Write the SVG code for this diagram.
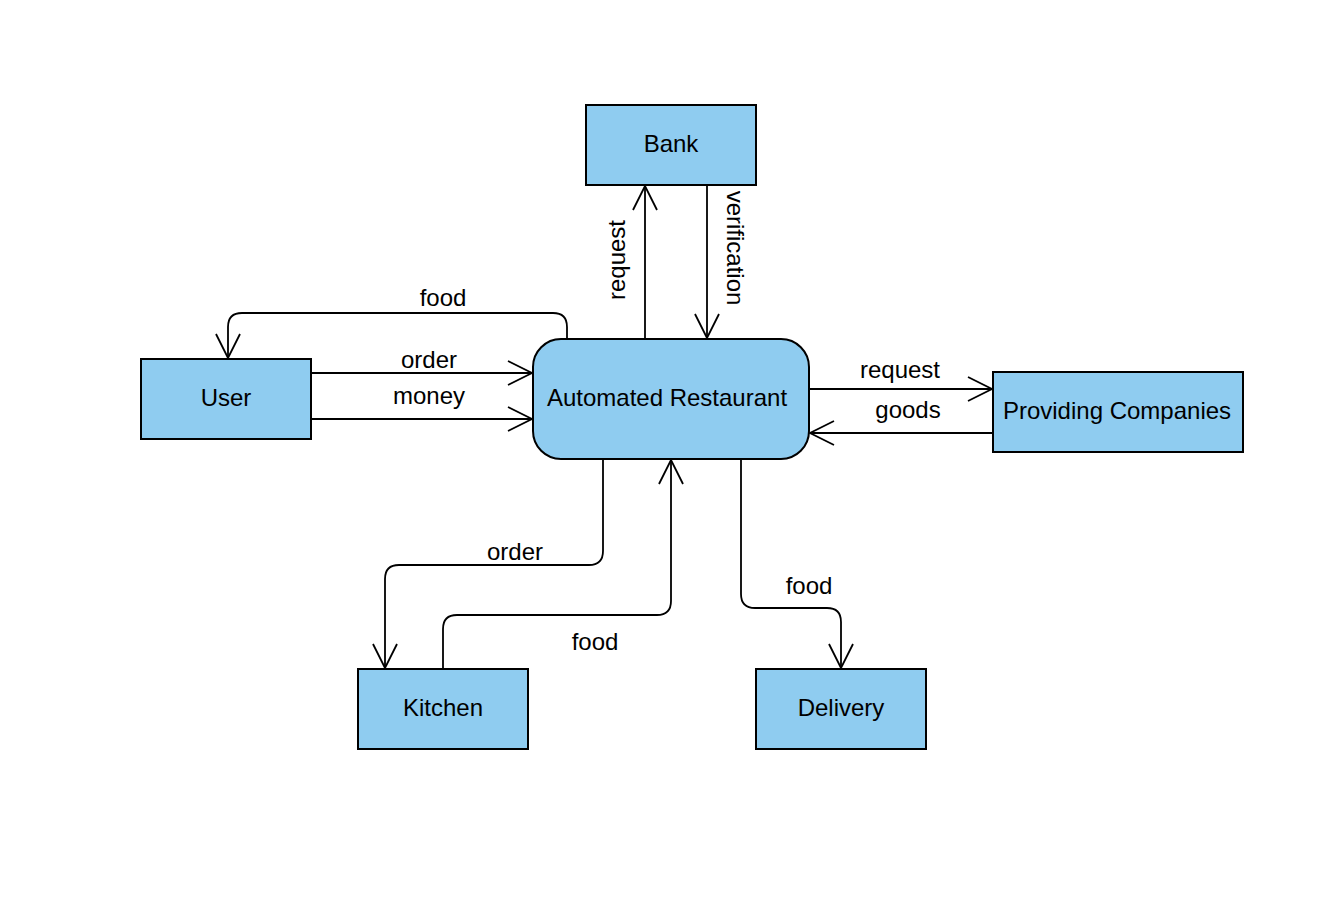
<svg xmlns="http://www.w3.org/2000/svg" width="1326" height="898" viewBox="0 0 1326 898">
<defs>
<style>
.box{fill:#8fccf0;stroke:#000;stroke-width:2}
.t{font-family:"Liberation Sans",Arial,sans-serif;font-size:24px;fill:#000;text-anchor:middle}
.e{fill:none;stroke:#000;stroke-width:1.8}
</style>
<marker id="ar" markerUnits="userSpaceOnUse" markerWidth="30" markerHeight="30" viewBox="-26 -14 30 28" refX="0" refY="0" orient="auto">
<path d="M-24,-12 L0,0 L-24,12" fill="none" stroke="#000" stroke-width="1.8"/>
</marker>
</defs>
<rect width="1326" height="898" fill="#fff"/>
<g id="connectors">
<path class="e" d="M645,339 V186" marker-end="url(#ar)"/>
<path class="e" d="M707,185 V338" marker-end="url(#ar)"/>
<path class="e" d="M567,339 V327 Q567,313 553,313 H242 Q228,313 228,327 V358" marker-end="url(#ar)"/>
<path class="e" d="M311,373 H532" marker-end="url(#ar)"/>
<path class="e" d="M311,419 H532" marker-end="url(#ar)"/>
<path class="e" d="M809,389 H992" marker-end="url(#ar)"/>
<path class="e" d="M993,433 H810" marker-end="url(#ar)"/>
<path class="e" d="M603,459 V551 Q603,565 589,565 H399 Q385,565 385,579 V668" marker-end="url(#ar)"/>
<path class="e" d="M443,669 V629 Q443,615 457,615 H657 Q671,615 671,601 V460" marker-end="url(#ar)"/>
<path class="e" d="M741,459 V594 Q741,608 755,608 H827 Q841,608 841,622 V668" marker-end="url(#ar)"/>
<text class="t" transform="translate(625,260) rotate(-90)">request</text>
<text class="t" transform="translate(727,248) rotate(90)">verification</text>
<text class="t" x="443" y="306">food</text>
<text class="t" x="429" y="368">order</text>
<text class="t" x="429" y="404">money</text>
<text class="t" x="900" y="378">request</text>
<text class="t" x="908" y="418">goods</text>
<text class="t" x="515" y="560">order</text>
<text class="t" x="595" y="650">food</text>
<text class="t" x="809" y="594">food</text>
</g>
<g id="bank"><rect class="box" x="586" y="105" width="170" height="80"/><text class="t" x="671" y="152">Bank</text></g>
<g id="restaurant"><rect class="box" x="533" y="339" width="276" height="120" rx="28" ry="28"/><text class="t" x="667" y="406">Automated Restaurant</text></g>
<g id="user"><rect class="box" x="141" y="359" width="170" height="80"/><text class="t" x="226" y="406">User</text></g>
<g id="providing"><rect class="box" x="993" y="372" width="250" height="80"/><text class="t" x="1117" y="419">Providing Companies</text></g>
<g id="kitchen"><rect class="box" x="358" y="669" width="170" height="80"/><text class="t" x="443" y="716">Kitchen</text></g>
<g id="delivery"><rect class="box" x="756" y="669" width="170" height="80"/><text class="t" x="841" y="716">Delivery</text></g>
</svg>
